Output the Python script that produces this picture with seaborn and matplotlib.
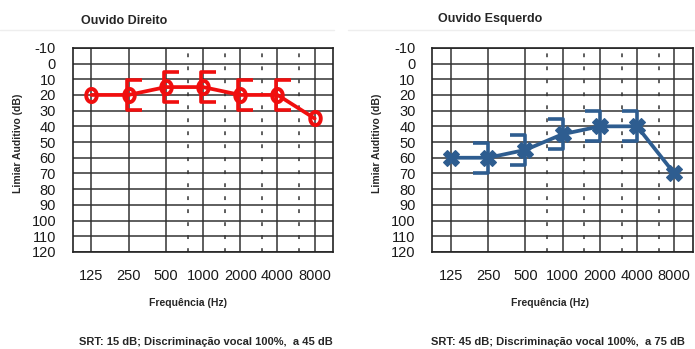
import numpy as np
import pandas as pd
import matplotlib
matplotlib.use("Agg")
import matplotlib.pyplot as plt
from matplotlib.path import Path
from matplotlib.lines import Line2D
import seaborn as sns

freqs = [125, 250, 500, 1000, 2000, 4000, 8000]
freq_labels = ["125", "250", "500", "1000", "2000", "4000", "8000"]
mid_freqs = [750, 1500, 3000, 6000]
db_ticks = list(range(-10, 121, 10))

right_air = [20, 20, 15, 15, 20, 20, 35]
right_bone_freqs = [250, 500, 1000, 2000, 4000]
right_bone = [20, 15, 15, 20, 20]

left_air = [60, 60, 55, 45, 40, 40, 70]
left_bone_freqs = [250, 500, 1000, 2000, 4000]
left_bone = [60, 55, 45, 40, 40]

RED = "#F00E0E"
BLUE = "#2E5D90"
GRID = "#333333"

sns.set_style("white")
plt.rcParams["font.family"] = ["Liberation Sans", "DejaVu Sans"]


def octave(f):
    return np.log2(np.asarray(f, dtype=float) / 125.0)


# open bracket markers: "[" for right ear, "]" for left ear
bracket_open = Path([(1, 1), (0, 1), (0, -1), (1, -1)],
                    [Path.MOVETO, Path.LINETO, Path.LINETO, Path.LINETO])
bracket_close = Path([(-1, 1), (0, 1), (0, -1), (-1, -1)],
                     [Path.MOVETO, Path.LINETO, Path.LINETO, Path.LINETO])
t = np.linspace(0, 2 * np.pi, 40)
ellipse = Path(np.column_stack([0.8 * np.cos(t), np.sin(t)]), closed=True)

fig = plt.figure(figsize=(6.95, 3.49), dpi=100)
ax_r = fig.add_axes([0.1046, 0.278, 0.375, 0.585])
ax_l = fig.add_axes([0.622, 0.278, 0.375, 0.585])


def style_axis(ax):
    ax.set_xlim(-0.5, 6.5)
    ax.set_ylim(120, -10)
    ax.set_xticks(octave(freqs))
    ax.set_xticklabels(freq_labels)
    ax.set_xticks(octave(mid_freqs), minor=True)
    ax.set_yticks(db_ticks)
    ax.set_yticklabels([str(v) for v in db_ticks])
    ax.grid(True, which="major", color=GRID, linewidth=1.1)
    ax.grid(True, which="minor", axis="x", color=GRID, linewidth=1.1,
            linestyle=(0, (2.5, 6)))
    ax.set_axisbelow(True)
    ax.tick_params(which="both", length=0)
    ax.tick_params(axis="y", pad=12, labelsize=10.5, labelcolor="#1a1a1a")
    ax.tick_params(axis="x", pad=12, labelsize=10.5, labelcolor="#1a1a1a")
    for s in ax.spines.values():
        s.set_visible(True)
        s.set_color("#222222")
        s.set_linewidth(1.2)
    ax.set_xlabel("")
    ax.set_ylabel("")


df_r = pd.DataFrame({"x": octave(freqs), "db": right_air})
sns.lineplot(data=df_r, x="x", y="db", ax=ax_r, color=RED, linewidth=2.7,
             marker=ellipse, markersize=9.5, markerfacecolor="none",
             markeredgecolor=RED, markeredgewidth=2.8, zorder=3)
ax_r.plot(octave(right_bone_freqs) - 0.05, right_bone, linestyle="none",
          marker=bracket_open, markersize=21, markerfacecolor="none",
          markeredgecolor=RED, markeredgewidth=2.6, zorder=3)

df_l = pd.DataFrame({"x": octave(freqs), "db": left_air})
sns.lineplot(data=df_l, x="x", y="db", ax=ax_l, color=BLUE, linewidth=2.7,
             marker="X", markersize=11.5, markerfacecolor=BLUE,
             markeredgecolor=BLUE, markeredgewidth=0.8, zorder=3)
ax_l.plot(octave(left_bone_freqs), left_bone, linestyle="none",
          marker=bracket_close, markersize=21, markerfacecolor="none",
          markeredgecolor=BLUE, markeredgewidth=2.6, zorder=3)

style_axis(ax_r)
style_axis(ax_l)

# titles, axis labels and notes
fig.text(124 / 695, 1 - 21 / 349, "Ouvido Direito", ha="center", va="center",
         fontsize=9, fontweight="bold")
fig.text(490 / 695, 1 - 19 / 349, "Ouvido Esquerdo", ha="center", va="center",
         fontsize=9, fontweight="bold")
for xc in (18, 377):
    fig.text(xc / 695, 1 - 143 / 349, "Limiar Auditivo (dB)", rotation=90,
             ha="center", va="center", fontsize=7.5, fontweight="bold")
for xc in (188, 550):
    fig.text(xc / 695, 1 - 303 / 349, "Frequência (Hz)", ha="center",
             va="center", fontsize=7.5, fontweight="bold")
fig.text(206 / 695, 1 - 342 / 349, "SRT: 15 dB; Discriminação vocal 100%,  a 45 dB",
         ha="center", va="center", fontsize=8, fontweight="bold")
fig.text(558 / 695, 1 - 342 / 349, "SRT: 45 dB; Discriminação vocal 100%,  a 75 dB",
         ha="center", va="center", fontsize=8, fontweight="bold")

# faint separator lines under the titles
fig.add_artist(Line2D([0.0, 0.48], [1 - 30 / 349] * 2, color="#eeeeee", lw=1))
fig.add_artist(Line2D([0.5, 1.0], [1 - 30 / 349] * 2, color="#eeeeee", lw=1))

fig.savefig("out.png", dpi=100)
